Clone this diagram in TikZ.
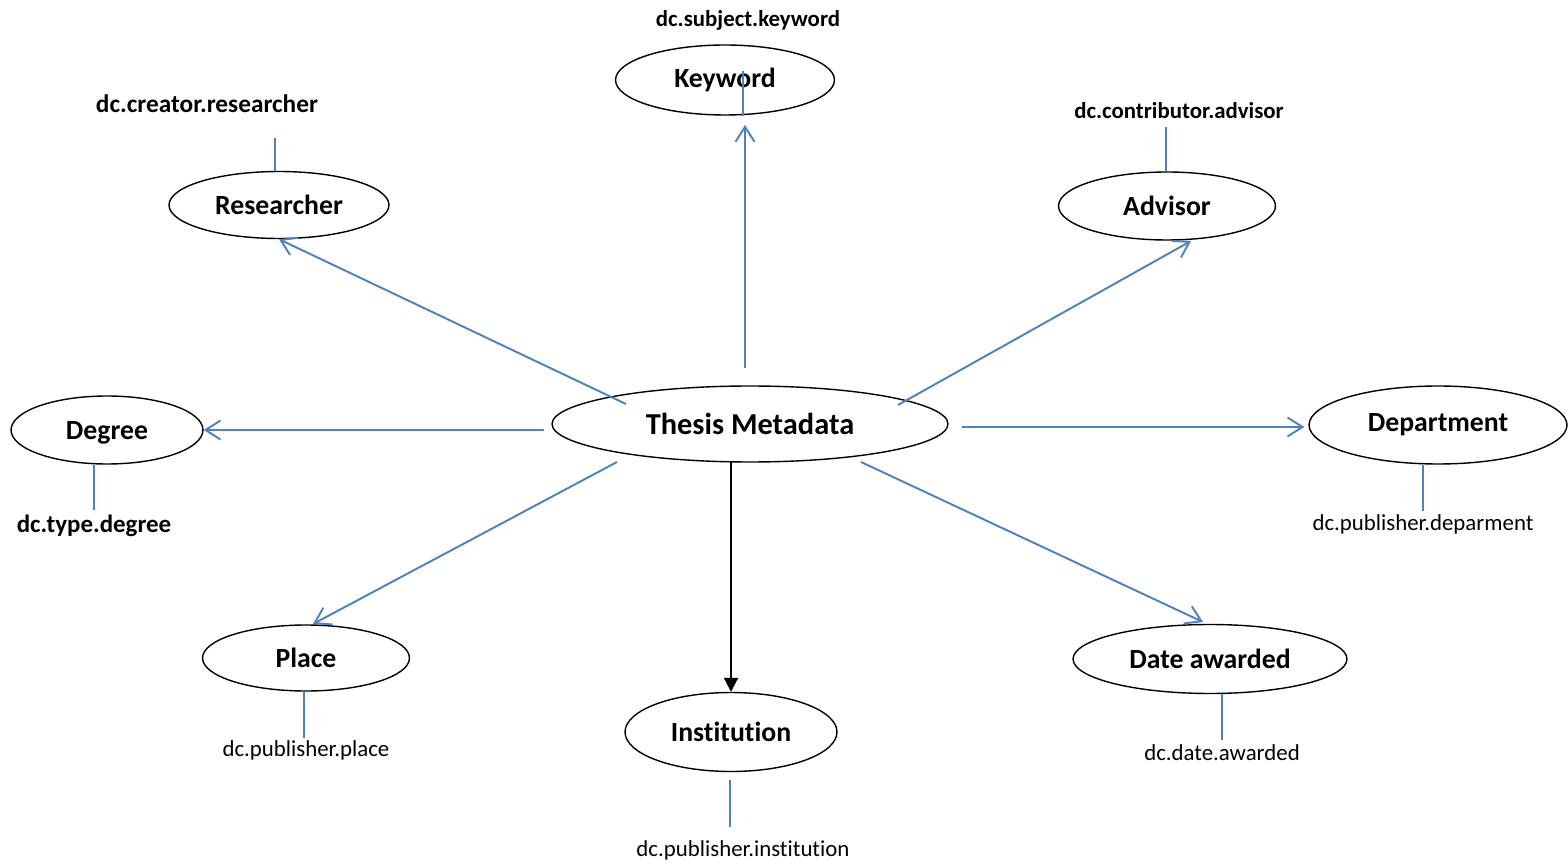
\documentclass[tikz,border=0pt]{standalone}
\usepackage{fontspec}
\setmainfont{Carlito}[Ligatures=NoCommon]
\usepackage{tikz}
\usetikzlibrary{arrows.meta}
\usetikzlibrary{shapes.geometric}
\usetikzlibrary{positioning}
\definecolor{linkblue}{RGB}{79,129,189}
\tikzset{
  % Common styles for the diagram
  field/.style={draw, ellipse, inner sep=0pt, line width=0.8pt, font=\fontsize{15.8}{18}\selectfont\bfseries},
  tag/.style={inner sep=1pt, font=\fontsize{13}{15}\selectfont},
  boldtag/.style={tag, font=\fontsize{14.4}{16}\selectfont\bfseries},
  link/.style={draw=linkblue, line width=1.1pt, -{Straight Barb[length=0.3cm, width=0.38cm]}},
  stub/.style={draw=linkblue, line width=1.1pt}
}

\begin{document}
\begin{tikzpicture}[x=0.02cm, y=-0.02cm]
    \useasboundingbox (0,0) rectangle (1568,864);

    % Place nodes
    \node [field, minimum width=7.92cm, minimum height=1.52cm, font=\fontsize{17.3}{20}\selectfont\bfseries] (thesis) at (750,424) {Thesis Metadata};
    \node [field, minimum width=4.38cm, minimum height=1.40cm] (keyword) at (725,80) {Keyword};
    \node [field, minimum width=4.40cm, minimum height=1.34cm] (researcher) at (279,205) {Researcher};
    \node [field, minimum width=4.34cm, minimum height=1.36cm] (advisor) at (1167,206) {Advisor};
    \node [field, minimum width=3.84cm, minimum height=1.36cm, text depth=0pt] (degree) at (107,430) {Degree};
    \node [field, minimum width=5.16cm, minimum height=1.56cm] (department) at (1438,425) {Department};
    \node [field, minimum width=4.14cm, minimum height=1.32cm] (place) at (306,658) {Place};
    \node [field, minimum width=4.24cm, minimum height=1.58cm] (institution) at (731,732) {Institution};
    \node [field, minimum width=5.48cm, minimum height=1.38cm] (date) at (1210,659) {Date awarded};

    % Dublin Core labels
    \node [boldtag, font=\fontsize{13}{15}\selectfont\bfseries] (lkeyword) at (748,20) {dc.subject.keyword};
    \node [boldtag] (lresearcher) at (207,104) {dc.creator.researcher};
    \node [boldtag, font=\fontsize{13}{15}\selectfont\bfseries] (ladvisor) at (1179,111) {dc.contributor.advisor};
    \node [boldtag, font=\fontsize{14.2}{16}\selectfont\bfseries] (ldegree) at (94,526) {dc.type.degree};
    \node [tag] (ldepartment) at (1423,524) {dc.publisher.deparment};
    \node [tag] (lplace) at (306,750) {dc.publisher.place};
    \node [tag] (linstitution) at (743,850) {dc.publisher.institution};
    \node [tag] (ldate) at (1222,753) {dc.date.awarded};

    % Draw edges
    \path [link] ([shift={(-124,-20)}]thesis.center) -- (researcher.south);
    \path [link] ([shift={(-5,-56)}]thesis.center) -- ([shift={(20,45)}]keyword.center);
    \path [link] ([shift={(148,-19)}]thesis.center) -- ([shift={(24,35)}]advisor.center);
    \path [link] ([shift={(-206,6)}]thesis.center) -- (degree.east);
    \path [link] ([shift={(212,3)}]thesis.center) -- ([shift={(-4,2)}]department.west);
    \path [link] ([shift={(-133,38)}]thesis.center) -- ([shift={(7,-34)}]place.center);
    \path [link] ([shift={(111,38)}]thesis.center) -- ([shift={(-7,-37)}]date.center);
    \draw [line width=1.1pt, -{Triangle[length=0.28cm, width=0.28cm]}] ([shift={(-19,38)}]thesis.center) -- (institution.north);

    % Stubs to the labels
    \path [stub] ([shift={(18,0)}]keyword.south) -- ++(0,-45);
    \path [stub] ([shift={(-4,0)}]researcher.north) -- ++(0,-33);
    \path [stub] ([shift={(-1,0)}]advisor.north) -- ++(0,-44);
    \path [stub] ([shift={(-13,0)}]degree.south) -- ++(0,45);
    \path [stub] ([shift={(-15,0)}]department.south) -- ++(0,46);
    \path [stub] ([shift={(-2,0)}]place.south) -- ++(0,46);
    \path [stub] ([shift={(-1,8)}]institution.south) -- ++(0,47);
    \path [stub] ([shift={(12,0)}]date.south) -- ++(0,46);
\end{tikzpicture}
\end{document}
